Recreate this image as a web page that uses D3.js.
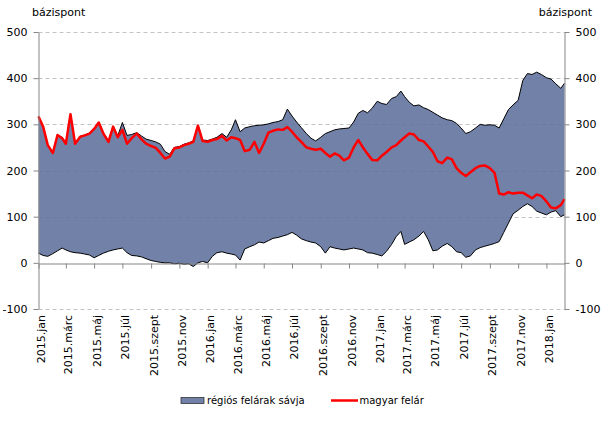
<!DOCTYPE html>
<html><head><meta charset="utf-8">
<script src="https://cdn.jsdelivr.net/npm/d3@7"></script>
<style>
body{margin:0;background:#fff}
svg{display:block}
text{font-family:"DejaVu Sans",Verdana,sans-serif;fill:#000}
</style>
</head><body>
<svg id="c" width="603" height="421"></svg>
<script>
// ---------- DATA ----------
const dates = [
"2015-01-01","2015-01-11","2015-01-21","2015-02-01","2015-02-11","2015-02-21",
"2015-03-01","2015-03-11","2015-03-21","2015-04-01","2015-04-11","2015-04-21",
"2015-05-01","2015-05-11","2015-05-21","2015-06-01","2015-06-11","2015-06-21",
"2015-07-01","2015-07-11","2015-07-21","2015-08-01","2015-08-11","2015-08-21",
"2015-09-01","2015-09-11","2015-09-21","2015-10-01","2015-10-11","2015-10-21",
"2015-11-01","2015-11-11","2015-11-21","2015-12-01","2015-12-11","2015-12-21",
"2016-01-01","2016-01-11","2016-01-21","2016-02-01","2016-02-11","2016-02-21",
"2016-03-01","2016-03-11","2016-03-21","2016-04-01","2016-04-11","2016-04-21",
"2016-05-01","2016-05-11","2016-05-21","2016-06-01","2016-06-11","2016-06-21",
"2016-07-01","2016-07-11","2016-07-21","2016-08-01","2016-08-11","2016-08-21",
"2016-09-01","2016-09-11","2016-09-21","2016-10-01","2016-10-11","2016-10-21",
"2016-11-01","2016-11-11","2016-11-21","2016-12-01","2016-12-11","2016-12-21",
"2017-01-01","2017-01-11","2017-01-21","2017-02-01","2017-02-11","2017-02-21",
"2017-03-01","2017-03-11","2017-03-21","2017-04-01","2017-04-11","2017-04-21",
"2017-05-01","2017-05-11","2017-05-21","2017-06-01","2017-06-11","2017-06-21",
"2017-07-01","2017-07-11","2017-07-21","2017-08-01","2017-08-11","2017-08-21",
"2017-09-01","2017-09-11","2017-09-21","2017-10-01","2017-10-11","2017-10-21",
"2017-11-01","2017-11-11","2017-11-21","2017-12-01","2017-12-11","2017-12-21",
"2018-01-01","2018-01-11","2018-01-21","2018-02-01","2018-02-09"
];
const regionHigh = [
317,295,255, 240,277,272, 260,322,260, 274,277,281, 291,305,282, 265,296,275,
304,276,278, 282,275,268, 265,262,257, 241,235,250, 252,257,260, 264,299,266,
265,268,272, 280,272,288, 310,284,292, 295,297,298, 299,301,304, 306,310,333,
318,305,293, 280,270,264, 272,280,284, 288,290,291, 292,305,324, 330,325,335,
350,345,343, 356,360,372, 360,348,340, 342,336,332, 326,320,314, 310,308,302,
292,280,284, 292,300,298, 299,298,292, 312,332,342, 352,395,410, 408,413,408,
401,398,388, 378,389
];
const regionLow = [
21,16,14, 20,26,32, 28,24,22, 21,19,17, 11,16,21, 25,28,30,
32,22,16, 15,13,9, 5,3,1, 0,0,-2, -1,-3,-2, -8,0,3,
0,14,22, 24,21,19, 17,6,30, 35,39,45, 43,48,53, 55,58,61,
66,60,52, 48,45,43, 35,21,35, 32,30,28, 30,32,30, 28,22,21,
18,15,25, 40,57,68, 40,45,50, 58,68,50, 26,28,36, 42,35,24,
22,12,15, 28,33,36, 39,42,46, 66,86,106, 114,122,128, 122,112,108,
104,110,113, 100,104
];
const hungary = [
317,295,255, 238,277,270, 258,322,258, 273,276,280, 290,304,280, 262,295,272,
288,258,270, 280,268,258, 253,249,238, 226,230,248, 250,255,258, 262,297,264,
262,266,268, 275,265,272, 270,266,242, 245,262,238, 258,282,286, 289,288,294,
284,272,262, 250,247,245, 247,238,230, 237,232,222, 228,250,266, 250,236,223,
222,232,240, 250,255,265, 272,280,278, 266,263,252, 240,220,216, 228,224,205,
195,188,196, 205,210,211, 205,195,150, 148,153,150, 152,152,146, 140,148,145,
133,120,118, 125,138
];
const yTicks = [-100,0,100,200,300,400,500];
const xTickDates = ["2015-01-01","2015-03-01","2015-05-01","2015-07-01","2015-09-01","2015-11-01",
"2016-01-01","2016-03-01","2016-05-01","2016-07-01","2016-09-01","2016-11-01",
"2017-01-01","2017-03-01","2017-05-01","2017-07-01","2017-09-01","2017-11-01","2018-01-01"];
const xTickLabels = ["2015.jan","2015.márc","2015.máj","2015.júl","2015.szept","2015.nov",
"2016.jan","2016.márc","2016.máj","2016.júl","2016.szept","2016.nov",
"2017.jan","2017.márc","2017.máj","2017.júl","2017.szept","2017.nov","2018.jan"];
const unitLabel = "bázispont";
const legendLabels = ["régiós felárak sávja","magyar felár"];

// ---------- CHART ----------
const parse = d3.utcParse("%Y-%m-%d");
const data = dates.map((d,i)=>({date:parse(d), low:regionLow[i], high:regionHigh[i], hu:hungary[i]}));

const svg = d3.select("#c");
const L = 38.5, R = 564.5, T = 32, B = 309;
const FILL = "#5e6f9c", FILL_OP = 0.88;
const x = d3.scaleUtc().domain([parse("2015-01-01"), parse("2018-02-09")]).range([L, R]);
const y = d3.scaleLinear().domain([-100, 500]).range([B, T]);

// gridlines
svg.append("g").selectAll("line").data(yTicks.filter(v=>v!==0)).join("line")
  .attr("x1", L).attr("x2", R)
  .attr("y1", d=>Math.round(y(d))+0.5).attr("y2", d=>Math.round(y(d))+0.5)
  .attr("stroke", "#c4c4c4").attr("stroke-width", 1).attr("stroke-dasharray", "4,3");

// band
const area = d3.area().x(d=>x(d.date)).y0(d=>y(d.low)).y1(d=>y(d.high));
svg.append("path").datum(data).attr("d", area)
  .attr("fill", FILL).attr("fill-opacity", FILL_OP);
const lineHigh = d3.line().x(d=>x(d.date)).y(d=>y(d.high));
const lineLow = d3.line().x(d=>x(d.date)).y(d=>y(d.low));
svg.append("path").datum(data).attr("d", lineHigh).attr("fill","none").attr("stroke","#000").attr("stroke-width",1);
svg.append("path").datum(data).attr("d", lineLow).attr("fill","none").attr("stroke","#000").attr("stroke-width",1);

// x axis at zero
const y0 = Math.round(y(0))+0.5;
const xAxis = d3.axisBottom(x).tickValues(xTickDates.map(parse)).tickFormat("").tickSize(5).tickSizeOuter(0);
const gx = svg.append("g").attr("transform", `translate(0,${y0})`).call(xAxis);
gx.selectAll("path,line").attr("stroke", "#868686");

// hungary line
const lineHu = d3.line().x(d=>x(d.date)).y(d=>y(d.hu));
svg.append("path").datum(data).attr("d", lineHu).attr("fill","none")
  .attr("stroke","#ff0000").attr("stroke-width",2.5).attr("stroke-linejoin","round");

// y axes
const fmt = d => String(d);
const gl = svg.append("g").attr("transform", `translate(${L},0)`)
  .call(d3.axisLeft(y).tickValues(yTicks).tickFormat(fmt).tickSize(5).tickSizeOuter(0).tickPadding(6));
const gr = svg.append("g").attr("transform", `translate(${R},0)`)
  .call(d3.axisRight(y).tickValues(yTicks).tickFormat(fmt).tickSize(5).tickSizeOuter(0).tickPadding(6));
[gl, gr].forEach(g=>{
  g.selectAll("path,line").attr("stroke","#868686");
  g.selectAll("text").attr("font-size", 11).attr("font-family", '"DejaVu Sans",Verdana,sans-serif').attr("fill","#000");
});

// x labels (rotated)
svg.append("g").selectAll("text").data(xTickDates).join("text")
  .attr("transform", (d)=>`translate(${x(parse(d))+3},315) rotate(-90)`)
  .attr("text-anchor","end").attr("dominant-baseline","central")
  .attr("font-size", 11)
  .text((d,i)=>xTickLabels[i]);

// unit labels
svg.append("text").attr("x", 32).attr("y", 16).attr("font-size", 11).text(unitLabel);
svg.append("text").attr("x", 592).attr("y", 16).attr("font-size", 11).attr("text-anchor","end").text(unitLabel);

// legend
const lg = svg.append("g");
lg.append("rect").attr("x",181).attr("y",397.5).attr("width",23).attr("height",6)
  .attr("fill",FILL).attr("fill-opacity",FILL_OP).attr("stroke","#333").attr("stroke-width",0.8);
lg.append("text").attr("x",207).attr("y",404).attr("font-size",10).text(legendLabels[0]);
lg.append("line").attr("x1",331).attr("x2",358).attr("y1",400.5).attr("y2",400.5)
  .attr("stroke","#ff0000").attr("stroke-width",2.5);
lg.append("text").attr("x",359.5).attr("y",404).attr("font-size",10).text(legendLabels[1]);
</script>
</body></html>
